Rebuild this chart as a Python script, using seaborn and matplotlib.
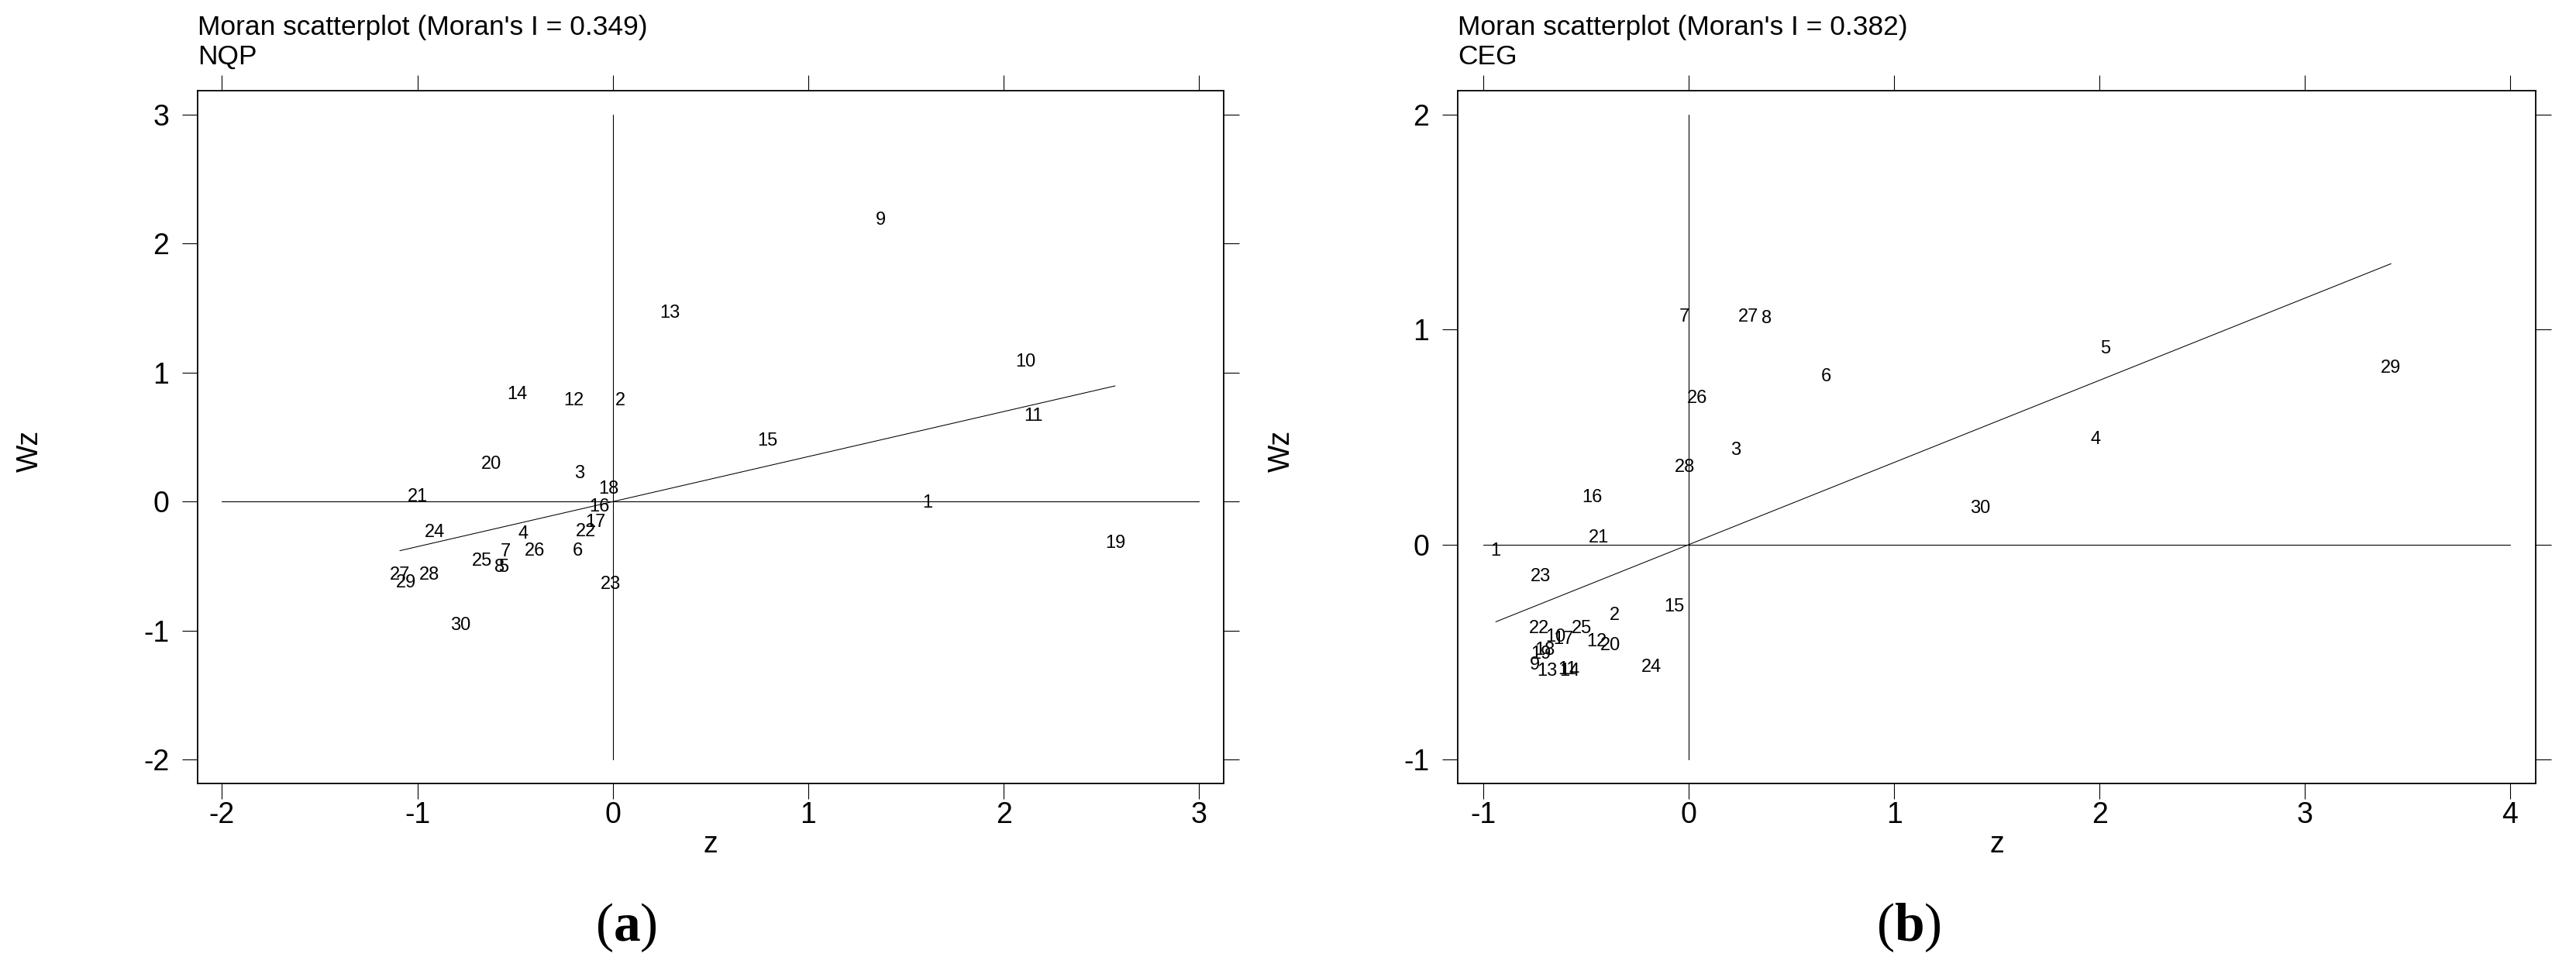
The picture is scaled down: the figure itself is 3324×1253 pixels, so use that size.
import numpy as np
import pandas as pd
import matplotlib
matplotlib.use("Agg")
import matplotlib.pyplot as plt
import seaborn as sns

# region ids (same order in both panels)
ids = list(range(1, 31))

# panel (a): NQP
nqp_z = [1.61, 0.04, -0.17, -0.46, -0.56, -0.18, -0.55, -0.58, 1.37, 2.11,
         2.15, -0.20, 0.29, -0.49, 0.79, -0.07, -0.09, -0.02, 2.57, -0.62,
         -1.00, -0.14, -0.01, -0.91, -0.67, -0.40, -1.09, -0.94, -1.06, -0.78]
nqp_wz = [-0.01, 0.78, 0.22, -0.25, -0.51, -0.38, -0.39, -0.51, 2.18, 1.08,
          0.66, 0.78, 1.46, 0.83, 0.47, -0.04, -0.16, 0.10, -0.32, 0.29,
          0.04, -0.23, -0.64, -0.24, -0.46, -0.38, -0.57, -0.57, -0.63, -0.96]
nqp_i = 0.349

# panel (b): CEG
ceg_z = [-0.94, -0.36, 0.23, 1.98, 2.03, 0.67, -0.02, 0.38, -0.75, -0.65,
         -0.59, -0.45, -0.69, -0.58, -0.07, -0.47, -0.61, -0.70, -0.72, -0.38,
         -0.44, -0.73, -0.72, -0.18, -0.52, 0.04, 0.29, -0.02, 3.42, 1.42]
ceg_wz = [-0.03, -0.33, 0.44, 0.49, 0.91, 0.78, 1.06, 1.05, -0.56, -0.43,
          -0.58, -0.45, -0.59, -0.59, -0.29, 0.22, -0.44, -0.49, -0.51, -0.47,
          0.03, -0.39, -0.15, -0.57, -0.39, 0.68, 1.06, 0.36, 0.82, 0.17]
ceg_i = 0.382

# axis ticks / reference line extents
nqp_xticks = [-2, -1, 0, 1, 2, 3]
nqp_yticks = [-2, -1, 0, 1, 2, 3]
ceg_xticks = [-1, 0, 1, 2, 3, 4]
ceg_yticks = [-1, 0, 1, 2]

panels = [
    ("NQP", nqp_z, nqp_wz, nqp_i, nqp_xticks, nqp_yticks, "a"),
    ("CEG", ceg_z, ceg_wz, ceg_i, ceg_xticks, ceg_yticks, "b"),
]

sns.set_theme(style="ticks")
plt.rcParams["font.family"] = ["Liberation Sans", "DejaVu Sans"]
plt.rcParams["mathtext.fontset"] = "custom"
plt.rcParams["mathtext.rm"] = "Liberation Serif"
plt.rcParams["mathtext.bf"] = "Liberation Serif:bold"
for key in ["text.color", "axes.labelcolor", "xtick.color", "ytick.color",
            "axes.edgecolor"]:
    plt.rcParams[key] = "black"

fig = plt.figure(figsize=(33.24, 12.53), dpi=100)
boxes = [[0.0767, 0.1931, 0.3983, 0.7135],
         [0.5659, 0.1931, 0.4185, 0.7135]]

for box, (name, z, wz, moran_i, xt, yt, tag) in zip(boxes, panels):
    ax = fig.add_axes(box)
    df = pd.DataFrame({"id": ids, "z": z, "wz": wz})

    # reference lines through the origin, spanning the tick range
    ax.plot([xt[0], xt[-1]], [0, 0], color="black", lw=0.8)
    ax.plot([0, 0], [yt[0], yt[-1]], color="black", lw=0.8)

    # fitted line (slope = Moran's I)
    fit = pd.DataFrame({"z": [df["z"].min(), df["z"].max()]})
    fit["wz"] = moran_i * fit["z"]
    sns.lineplot(data=fit, x="z", y="wz", ax=ax, color="black", lw=0.75)

    for _, r in df.iterrows():
        ax.text(r["z"], r["wz"], str(int(r["id"])), ha="center", va="center",
                fontsize=17, color="black")

    xpad = 0.025 * (xt[-1] - xt[0])
    ypad = 0.037 * (yt[-1] - yt[0])
    ax.set_xlim(xt[0] - xpad, xt[-1] + xpad)
    ax.set_ylim(yt[0] - ypad, yt[-1] + ypad)
    ax.set_xticks(xt, [str(v) for v in xt])
    ax.set_yticks(yt, [str(v) for v in yt])
    ax.tick_params(axis="both", direction="out", length=14.4, width=0.8,
                   labelsize=27, top=True, right=True, color="black",
                   labelcolor="black")
    ax.tick_params(axis="x", pad=2)
    ax.tick_params(axis="y", pad=12)
    for s in ax.spines.values():
        s.set_linewidth(1.3)
        s.set_color("black")
    ax.set_xlabel("")
    ax.set_ylabel("")
    ax.grid(False)

    ax.text(0.5, -0.088, "z", transform=ax.transAxes, ha="center",
            va="center", fontsize=27)
    ax.text(-0.163, 0.48, "Wz", transform=ax.transAxes, ha="center",
            va="center", rotation=90, fontsize=27)
    ax.text(0.0, 1.0805, f"Moran scatterplot (Moran's I = {moran_i:.3f})",
            transform=ax.transAxes, ha="left", va="baseline", fontsize=25.5)
    ax.text(0.0, 1.038, name, transform=ax.transAxes, ha="left",
            va="baseline", fontsize=25.5)
    ax.text(0.418, -0.208, r"$(\mathbf{" + tag + r"})$",
            transform=ax.transAxes, ha="center", va="center", fontsize=50)

fig.savefig("out.png", dpi=100, facecolor="white")
plt.close(fig)
